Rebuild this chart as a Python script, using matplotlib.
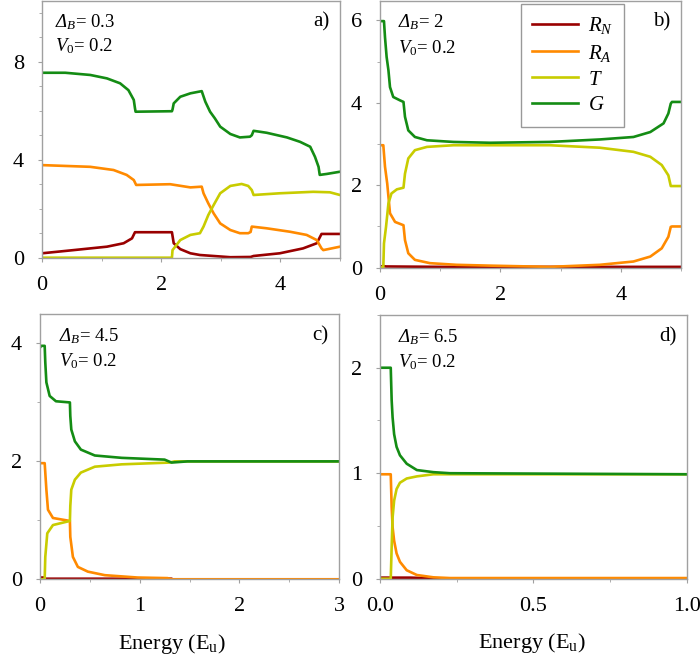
import matplotlib
matplotlib.use("Agg")
import matplotlib.pyplot as plt

plt.rcParams['font.family'] = ['Liberation Serif', 'DejaVu Serif']
plt.rcParams['mathtext.fontset'] = 'custom'
plt.rcParams['mathtext.rm'] = 'Liberation Serif'
plt.rcParams['mathtext.it'] = 'Liberation Serif:italic'
plt.rcParams['mathtext.sf'] = 'Liberation Serif:italic'  # used for the italic capital Delta

# colours of the four curves
c_rn = '#990000'
c_ra = '#ff8a00'
c_t = '#c8cc00'
c_g = '#148c14'

# ---- panel a)  Delta_B = 0.3
a_g_x = [0, 0.39, 0.81, 1.09, 1.31, 1.45, 1.54, 1.56, 1.57, 2.18, 2.19, 2.21, 2.32, 2.49, 2.68, 2.74, 2.82,
         2.90, 2.99, 3.16, 3.32, 3.49, 3.52, 3.55, 3.77, 4.11, 4.33, 4.50, 4.58, 4.64, 4.66, 4.78, 5.0]
a_g_y = [7.55, 7.55, 7.46, 7.32, 7.12, 6.84, 6.44, 6.1, 5.96, 5.98, 6.05, 6.30, 6.57, 6.71, 6.80, 6.37, 5.96,
         5.69, 5.35, 5.05, 4.91, 4.94, 5.0, 5.18, 5.10, 4.91, 4.73, 4.53, 4.12, 3.71, 3.38, 3.42, 3.51]
a_ra_x = [0, 0.81, 1.20, 1.42, 1.54, 1.58, 2.15, 2.49, 2.68, 2.71, 2.79, 2.88, 2.99, 3.16, 3.32, 3.46, 3.50,
          3.52, 3.77, 4.16, 4.44, 4.61, 4.69, 4.72, 5.0]
a_ra_y = [3.78, 3.71, 3.58, 3.38, 3.17, 2.97, 3.0, 2.87, 2.90, 2.63, 2.22, 1.81, 1.40, 1.13, 1.0, 1.0, 1.05,
          1.27, 1.20, 1.06, 0.93, 0.72, 0.38, 0.31, 0.45]
a_t_x = [0, 2.18, 2.19, 2.32, 2.49, 2.65, 2.71, 2.79, 2.88, 2.99, 3.16, 3.35, 3.46, 3.52, 3.55, 3.99, 4.55,
         4.83, 5.0]
a_t_y = [0, 0, 0.31, 0.72, 0.93, 1.0, 1.27, 1.74, 2.15, 2.63, 2.93, 3.01, 2.93, 2.76, 2.56, 2.63, 2.69,
         2.67, 2.56]
a_rn_x = [0, 0.53, 1.09, 1.37, 1.51, 1.56, 2.18, 2.21, 2.32, 2.49, 2.65, 3.16, 3.50, 3.55, 3.99, 4.38, 4.61,
          4.69, 5.0]
a_rn_y = [0.18, 0.31, 0.45, 0.59, 0.79, 1.04, 1.04, 0.59, 0.35, 0.18, 0.11, 0.02, 0.03, 0.07, 0.18, 0.38, 0.59,
          0.97, 0.97]

# ---- panel b)  Delta_B = 2
b_g_x = [0, 0.066, 0.083, 0.11, 0.14, 0.166, 0.22, 0.33, 0.39, 0.415, 0.47, 0.58, 0.78, 1.22, 1.83, 2.82,
         3.65, 4.21, 4.49, 4.71, 4.79, 4.83, 4.85, 5.0]
b_g_y = [5.98, 5.98, 5.59, 5.11, 4.79, 4.38, 4.14, 4.06, 4.02, 3.66, 3.33, 3.17, 3.09, 3.05, 3.03, 3.05,
         3.11, 3.17, 3.29, 3.50, 3.74, 3.98, 4.02, 4.02]
b_ra_x = [0, 0.055, 0.083, 0.12, 0.166, 0.25, 0.39, 0.415, 0.47, 0.58, 0.83, 1.27, 1.83, 2.82, 3.65, 4.21,
          4.49, 4.68, 4.79, 4.83, 4.85, 5.0]
b_ra_y = [2.97, 2.97, 2.45, 2.04, 1.32, 1.11, 1.03, 0.67, 0.35, 0.19, 0.11, 0.07, 0.05, 0.02, 0.07, 0.15,
          0.27, 0.47, 0.75, 0.99, 1.0, 1.0]
b_t_x = [0, 0.055, 0.066, 0.10, 0.14, 0.19, 0.28, 0.39, 0.415, 0.47, 0.58, 0.78, 1.22, 2.82, 3.65, 4.21,
         4.49, 4.68, 4.79, 4.83, 5.0]
b_t_y = [0, 0.02, 0.59, 0.99, 1.56, 1.80, 1.90, 1.94, 2.28, 2.65, 2.85, 2.93, 2.97, 2.97, 2.91, 2.81,
         2.69, 2.49, 2.24, 1.98, 1.98]
b_rn_x = [0, 0.05, 0.1, 1.0, 5.0]
b_rn_y = [0.02, 0.04, 0.03, 0.02, 0.02]

# ---- panel c)  Delta_B = 4.5
c_g_x = [0, 0.013, 0.047, 0.053, 0.064, 0.097, 0.16, 0.30, 0.304, 0.314, 0.35, 0.41, 0.55, 0.82, 1.25,
         1.32, 1.48, 3.0]
c_g_y = [3.93, 3.96, 3.96, 3.68, 3.34, 3.11, 3.02, 3.0, 2.77, 2.54, 2.34, 2.20, 2.10, 2.06, 2.03,
         1.98, 2.0, 2.0]
c_ra_x = [0, 0.047, 0.064, 0.08, 0.13, 0.30, 0.304, 0.33, 0.38, 0.48, 0.65, 0.98, 1.28, 1.32, 3.0]
c_ra_y = [1.97, 1.97, 1.52, 1.18, 1.04, 0.99, 0.72, 0.38, 0.21, 0.13, 0.07, 0.03, 0.02, 0.0, 0.0]
c_t_x = [0, 0.047, 0.053, 0.073, 0.13, 0.30, 0.304, 0.314, 0.35, 0.41, 0.55, 0.82, 1.30, 1.35, 3.0]
c_t_y = [0, 0, 0.38, 0.78, 0.92, 0.99, 1.24, 1.52, 1.69, 1.81, 1.91, 1.95, 1.98, 2.0, 2.0]
c_rn_x = [0, 0.043, 0.05, 0.3, 1.32, 1.33, 3.0]
c_rn_y = [0.03, 0.03, 0.01, 0.01, 0.01, 0.0, 0.0]

# ---- panel d)  Delta_B = 6.5
d_x = [0, 0.035, 0.038, 0.041, 0.046, 0.054, 0.065, 0.087, 0.12, 0.174, 0.228, 1.0]
d_g_y = [2.0, 2.0, 1.69, 1.53, 1.37, 1.25, 1.17, 1.09, 1.03, 1.01, 1.0, 0.99]
d_ra_y = [0.99, 0.99, 0.68, 0.49, 0.36, 0.24, 0.16, 0.08, 0.035, 0.013, 0.006, 0.006]
d_t_y = [0, 0, 0.30, 0.58, 0.74, 0.85, 0.91, 0.95, 0.97, 0.99, 0.99, 0.99]
d_rn_x = [0, 0.035, 0.1, 0.2, 1.0]
d_rn_y = [0.01, 0.01, 0.01, 0.0, 0.0]

labels = [r'$R_N$', r'$R_A$', r'$T$', r'$G$']
deltas = ['0.3', '2', '4.5', '6.5']
tags = ['a)', 'b)', 'c)', 'd)']

fig = plt.figure(figsize=(7, 6.66), dpi=100)
W, H = 700.0, 666.0


def make_ax(left, top, right, bottom):
    return fig.add_axes([left / W, 1 - bottom / H, (right - left) / W, (bottom - top) / H])


ax_a = make_ax(42, 0.5, 340, 257.7)
ax_b = make_ax(380, 0.5, 681, 267.7)
ax_c = make_ax(40, 314, 339, 579.3)
ax_d = make_ax(380, 315, 687, 578.7)
axes = [ax_a, ax_b, ax_c, ax_d]

data = [
    (a_rn_x, a_rn_y, a_ra_x, a_ra_y, a_t_x, a_t_y, a_g_x, a_g_y),
    (b_rn_x, b_rn_y, b_ra_x, b_ra_y, b_t_x, b_t_y, b_g_x, b_g_y),
    (c_rn_x, c_rn_y, c_ra_x, c_ra_y, c_t_x, c_t_y, c_g_x, c_g_y),
    (d_rn_x, d_rn_y, d_x, d_ra_y, d_x, d_t_y, d_x, d_g_y),
]
colors = [c_rn, c_ra, c_t, c_g]

xlims = [5, 5, 3, 1.0]
ylims = [10.5, 6.48, 4.5, 2.5]
xmaj = [2, 2, 1, 0.5]
xmin = [1, 1, 0.5, 0.25]
ymaj = [4, 2, 2, 1]
ymin = [1, 1, 1, 0.5]
# where the two text lines start (axes fraction)
txt_x = [0.045, 0.06, 0.065, 0.06]

for i, ax in enumerate(axes):
    d = data[i]
    for k in range(4):
        ax.plot(d[2 * k], d[2 * k + 1], color=colors[k], lw=1.9, label=labels[k],
                solid_joinstyle='round')
    ax.set_xlim(0, xlims[i])
    ax.set_ylim(0, ylims[i])
    ax.xaxis.set_major_locator(matplotlib.ticker.MultipleLocator(xmaj[i]))
    ax.xaxis.set_minor_locator(matplotlib.ticker.MultipleLocator(xmin[i]))
    ax.yaxis.set_major_locator(matplotlib.ticker.MultipleLocator(ymaj[i]))
    ax.yaxis.set_minor_locator(matplotlib.ticker.MultipleLocator(ymin[i]))
    if i == 3:
        ax.xaxis.set_major_formatter(matplotlib.ticker.FormatStrFormatter('%.1f'))
    for s in ax.spines.values():
        s.set_color('#a0a0a0')
        s.set_linewidth(1.0)
    ax.tick_params(which='major', direction='out', length=3, color='#a0a0a0', labelsize=16, pad=10)
    ax.tick_params(which='minor', direction='out', length=2, color='#a0a0a0')
    ax.text(txt_x[i], 0.955, r'$\mathsf{Δ}_\mathit{B}$= ' + deltas[i], transform=ax.transAxes,
            fontsize=13.5, ha='left', va='top')
    ax.text(txt_x[i], 0.86, r'$\mathit{V}_{\mathrm{0}}$= 0.2', transform=ax.transAxes,
            fontsize=13.5, ha='left', va='top')
    ax.text(0.965, 0.955, tags[i], transform=ax.transAxes, fontsize=15, ha='right', va='top')

ax_c.set_xlabel(r'Energy (E$_\mathrm{u}$)', fontsize=16, labelpad=12)
ax_c.xaxis.set_label_coords(0.44, -0.2)
ax_d.set_xlabel(r'Energy (E$_\mathrm{u}$)', fontsize=16, labelpad=12)
ax_d.xaxis.set_label_coords(0.495, -0.2)

leg = ax_b.legend(loc='upper left', bbox_to_anchor=(521 / W, 1 - 4 / H), bbox_transform=fig.transFigure,
                  fontsize=15, frameon=True, fancybox=False, handlelength=2.2, labelspacing=0.3,
                  borderpad=0.55, handletextpad=0.45, borderaxespad=0)
leg.get_frame().set_edgecolor('#808080')
leg.get_frame().set_linewidth(1.0)

fig.savefig('out.png', dpi=100)
